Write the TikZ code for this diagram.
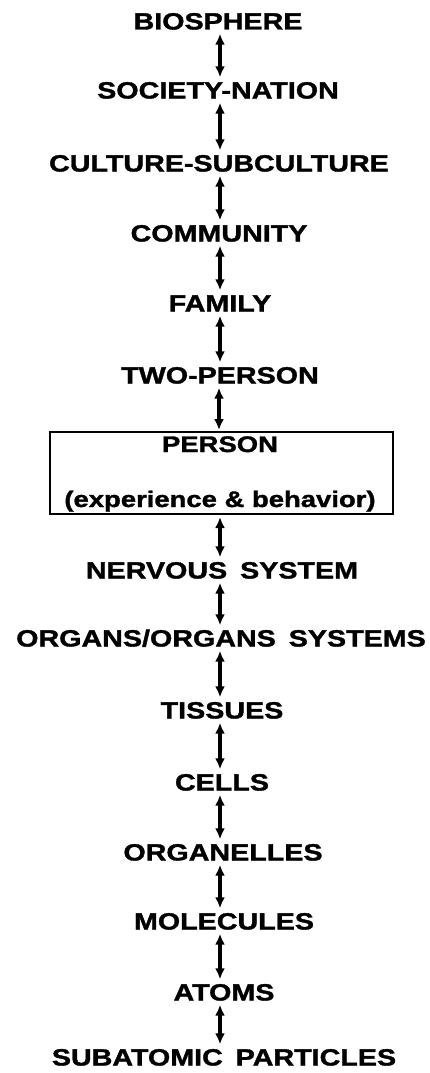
\documentclass[tikz,border=0pt]{standalone}
\usepackage{fontspec}
\newfontfamily\labfont{Liberation Sans}[FakeStretch=1.22,FakeBold=1.5]
\usetikzlibrary{arrows.meta}
\begin{document}
\begin{tikzpicture}[x=1pt,y=-1pt,
  lab/.style={font=\labfont\bfseries\fontsize{23.5}{26}\selectfont, text height=17pt, text depth=0pt, inner xsep=0pt, inner ysep=4pt},
  sublab/.style={font=\labfont\bfseries\fontsize{22.5}{26}\selectfont, inner sep=0pt, anchor=base},
  arr/.style={line width=3.2pt, {Latex[length=11pt,width=10pt]}-{Latex[length=11pt,width=10pt]}},
  frame/.style={draw, line width=2pt, minimum width=343pt, minimum height=82pt, inner sep=0pt}]
\useasboundingbox (0,0) rectangle (430,1073);
\node[lab] (bio)  at (218,21)  {BIOSPHERE};
\node[lab] (soc)  at (218,90)  {SOCIETY-NATION};
\node[lab] (cul)  at (219,163) {CULTURE-SUBCULTURE};
\node[lab] (com)  at (219,233) {COMMUNITY};
\node[lab] (fam)  at (220,303) {FAMILY};
\node[lab] (two)  at (220,375) {TWO-PERSON};
\node[frame] (person) at (221.5,473) {};
\node[sublab] (pt1) at (220,452) {PERSON};
\node[sublab] (pt2) at (220,507) {(experience \& behavior)};
\node[lab] (ner)  at (222,570) {NERVOUS\hspace{0.55em}SYSTEM};
\node[lab] (org)  at (221,638) {ORGANS/ORGANS\hspace{0.55em}SYSTEMS};
\node[lab] (tis)  at (222,710) {TISSUES};
\node[lab] (cel)  at (222,782) {CELLS};
\node[lab] (orl)  at (223,852) {ORGANELLES};
\node[lab] (mol)  at (224,921) {MOLECULES};
\node[lab] (ato)  at (224,992) {ATOMS};
\node[lab] (sub)  at (224,1057) {SUBATOMIC\hspace{0.55em}PARTICLES};
\foreach \a/\b in {bio/soc,soc/cul,cul/com,com/fam,fam/two,ner/org,org/tis,tis/cel,cel/orl,orl/mol,mol/ato,ato/sub}
  \draw[arr] ([xshift=1pt]\a.south -| 219,0) -- ([xshift=1pt]\b.north -| 219,0);
\draw[arr,shorten >=1pt] (two.south -| 219,0) -- (person.north -| 219,0);
\draw[arr,shorten <=2pt] (person.south -| 220,0) -- (ner.north -| 220,0);
\end{tikzpicture}
\end{document}
